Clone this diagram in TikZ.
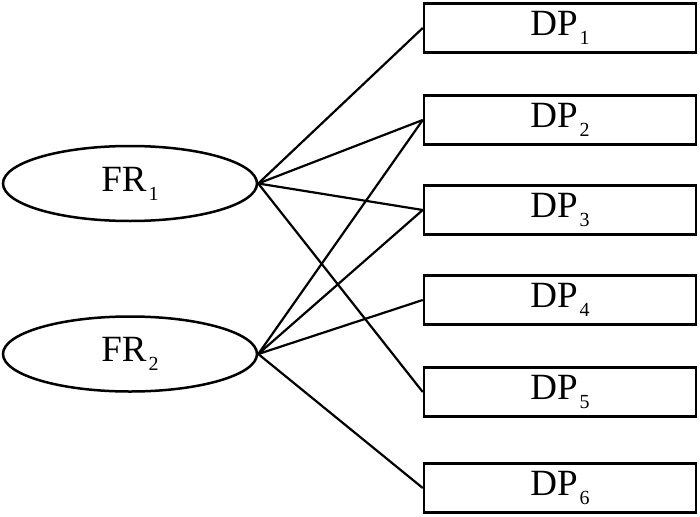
\documentclass[tikz,border=0pt]{standalone}
\usepackage{fontspec}
\setmainfont{Liberation Serif}
\usetikzlibrary{shapes.geometric}
\newcommand{\sbs}[1]{\kern2pt\raisebox{-0.24em}{\fontsize{20}{20}\selectfont #1}}
\tikzset{
  frnode/.style={ellipse, draw, line width=2.5pt, minimum width=254pt, minimum height=75pt, inner sep=0pt, font=\fontsize{37}{37}\selectfont},
  dpnode/.style={rectangle, draw, line width=2.5pt, minimum width=272pt, minimum height=49pt, inner sep=0pt, font=\fontsize{37}{37}\selectfont},
  link/.style={line width=2.2pt}
}
\begin{document}
\begin{tikzpicture}[x=1pt,y=-1pt]
\useasboundingbox (0,0) rectangle (700,516);
\node[frnode] (fr1) at (130,183.5) {FR\sbs{1}};
\node[frnode] (fr2) at (130,354) {FR\sbs{2}};
\node[dpnode] (dp1) at (560,28) {DP\sbs{1}};
\node[dpnode] (dp2) at (560,120) {DP\sbs{2}};
\node[dpnode] (dp3) at (560,210) {DP\sbs{3}};
\node[dpnode] (dp4) at (560,300) {DP\sbs{4}};
\node[dpnode] (dp5) at (560,392) {DP\sbs{5}};
\node[dpnode] (dp6) at (560,488) {DP\sbs{6}};
\draw[link] (fr1.east) -- (dp1.west);
\draw[link] (fr1.east) -- (dp2.west);
\draw[link] (fr1.east) -- (dp3.west);
\draw[link] (fr1.east) -- (dp5.west);
\draw[link] (fr2.east) -- (dp2.west);
\draw[link] (fr2.east) -- (dp3.west);
\draw[link] (fr2.east) -- (dp4.west);
\draw[link] (fr2.east) -- (dp6.west);
\end{tikzpicture}
\end{document}
